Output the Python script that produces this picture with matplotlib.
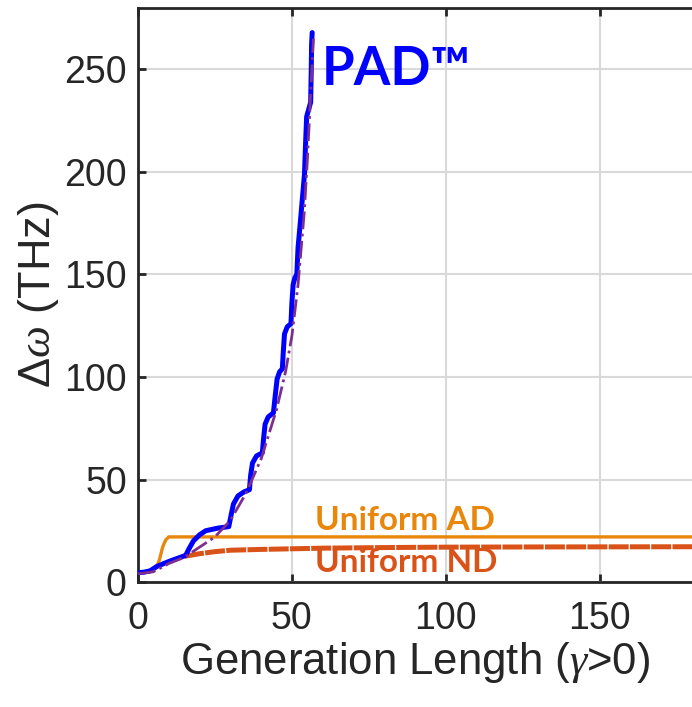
import matplotlib.pyplot as plt
import numpy as np

# PAD (blue, stepped)
pad_x = [0, 2, 4, 6, 10, 15.5, 16.5, 18, 20, 22, 26, 29.5, 30.3, 31, 32.5, 34.5, 36.2,
         36.6, 37.2, 38.5, 40.4, 40.8, 41.3, 42.3, 44, 44.6, 45.2, 46, 46.9, 47.2,
         47.6, 48.5, 49.7, 50, 50.4, 51, 51.6, 52, 52.6, 54.1, 54.4, 54.8, 56.1,
         56.3, 56.4, 56.6]
pad_y = [4.5, 4.8, 5.5, 7.5, 10, 13, 16, 20, 23, 25, 26.3, 27, 33, 38, 42, 44, 45,
         52, 58, 61.5, 63, 70, 77, 80.5, 82.5, 91, 99, 102.5, 104, 112,
         121, 124.5, 126, 136, 145, 148.5, 150, 163, 173, 199, 212, 227, 234,
         250, 262, 268]

# smooth fit (purple dash-dot)
fit_x = [0, 5, 10, 15, 20, 25, 30, 35, 40, 45, 48, 50, 52, 54, 55, 56, 57]
fit_y = [4, 5, 9, 12, 17, 22, 30, 43, 60, 84, 103, 120, 145, 180, 205, 235, 265]

# Uniform AD
ad_x = [0, 4, 6, 7, 8, 9, 10, 180]
ad_y = [4.5, 5, 7, 11, 17, 20.5, 22, 22]

# Uniform ND
nd_x = [15, 20, 25, 30, 40, 50, 60, 80, 100, 130, 180]
nd_y = [12.5, 13.8, 14.8, 15.5, 15.9, 16.2, 16.5, 16.8, 17.0, 17.1, 17.2]

plt.rcParams['font.family'] = ['Liberation Sans', 'DejaVu Sans']
plt.rcParams['mathtext.fontset'] = 'custom'
plt.rcParams['mathtext.it'] = 'Liberation Serif:italic'
plt.rcParams['mathtext.rm'] = 'Liberation Sans'

fig = plt.figure(figsize=(6.92, 7.07), dpi=100)
ax = fig.add_axes([0.1994, 0.1768, 0.8006, 0.8119])

ax.plot(nd_x, nd_y, color='#D95319', lw=3.6, ls=(0, (4, 0.25)), zorder=3)
ax.plot(ad_x, ad_y, color='#E8870C', lw=2.4, zorder=4)
ax.plot(pad_x, pad_y, color='#0000FF', lw=3.6, solid_joinstyle='round',
        solid_capstyle='round', zorder=5)
ax.plot(fit_x, fit_y, color='#7E2F8E', lw=2.0, ls='-.', zorder=6)

ax.set_xlim(0, 180)
ax.set_ylim(0, 280)
ax.set_xticks([0, 50, 100, 150])
ax.set_yticks([0, 50, 100, 150, 200, 250])
ax.grid(True, color='#d9d9d9', lw=1.5)
ax.set_axisbelow(True)

for s in ['left', 'bottom', 'top']:
    ax.spines[s].set_color('#262626')
    ax.spines[s].set_linewidth(2)
ax.spines['right'].set_visible(False)
ax.tick_params(direction='in', length=6, width=2, color='#262626',
               labelsize=27, labelcolor='#262626', top=True)
ax.tick_params(axis='x', pad=14)
ax.tick_params(axis='y', pad=8)

ax.set_xlabel(r'Generation Length ($\gamma$>0)', fontsize=31.5, color='#262626', labelpad=2)
ax.set_ylabel(r'$\Delta\omega$ (THz)', fontsize=32.5, color='#262626', labelpad=2)

ax.text(59.6, 250, 'PAD™', color='#0000FF', fontsize=38, fontweight='bold',
        family='Lato', va='center', ha='left')
ax.text(57.4, 25.6, 'Uniform AD', color='#E8870C', fontsize=24, fontweight='bold',
        family='Lato', va='baseline', ha='left')
ax.text(57.4, 5, 'Uniform ND', color='#D95319', fontsize=24, fontweight='bold',
        family='Lato', va='baseline', ha='left')

fig.savefig('out.png', dpi=100)
